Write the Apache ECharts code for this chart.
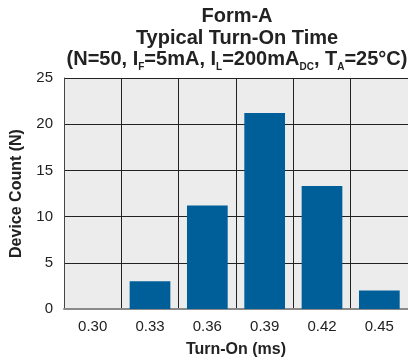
<!DOCTYPE html>
<html><head><meta charset="utf-8">
<script src="https://cdn.jsdelivr.net/npm/echarts@6/dist/echarts.min.js"></script>
<style>html,body{margin:0;padding:0;background:#fff}#c{width:408px;height:364px}</style>
</head><body><div id="c"></div>
<script>
const categories = ['0.30', '0.33', '0.36', '0.39', '0.42', '0.45'];
const deviceCount = [0, 3, 11.2, 21.2, 13.3, 2];
const yTicks = [0, 5, 10, 15, 20, 25];

const F = '"Liberation Sans", Arial, Helvetica, sans-serif';
const chart = echarts.init(document.getElementById('c'));
chart.setOption({
  animation: false,
  backgroundColor: '#fff',
  title: {
    left: 232, textAlign: 'center', top: 1,
    text: '{n|Form-A}\n{n|Typical Turn-On Time}\n{n|(N=50, I}{s|F}{n|=5mA, I}{s|L}{n|=200mA}{s|DC}{n|, T}{s|A}{n|=25°C)}',
    textStyle: {
      fontFamily: F, fontSize: 20, fontWeight: 'bold', color: '#222', lineHeight: 21.5,
      rich: {
        n: {fontFamily: F, fontSize: 20, fontWeight: 'bold', color: '#222', lineHeight: 21.5},
        s: {fontFamily: F, fontSize: 10, fontWeight: 'bold', color: '#222', lineHeight: 14, verticalAlign: 'bottom', padding: [0, 0, -2, 0]}
      }
    }
  },
  grid: {left: 64, top: 78, width: 347, height: 231, containLabel: false, backgroundColor: '#ececec', show: true, borderWidth: 0},
  xAxis: {
    type: 'category', data: categories,
    name: 'Turn-On (ms)', nameLocation: 'middle', nameGap: 33,
    nameTextStyle: {fontFamily: F, fontSize: 16, fontWeight: 'bold', color: '#222'},
    axisLine: {show: true, lineStyle: {color: '#8a8a8a', width: 2}},
    axisTick: {show: false},
    axisLabel: {fontFamily: F, fontSize: 15, color: '#222', margin: 10},
    splitLine: {show: true, interval: 0, lineStyle: {color: '#222', width: 1}}
  },
  yAxis: {
    type: 'value', min: 0, max: 25, interval: 5,
    name: 'Device Count (N)', nameLocation: 'middle', nameGap: 39, nameRotate: 90,
    nameTextStyle: {fontFamily: F, fontSize: 16, fontWeight: 'bold', color: '#222'},
    axisLine: {show: true, lineStyle: {color: '#444', width: 1}},
    axisTick: {show: false},
    axisLabel: {fontFamily: F, fontSize: 15, color: '#222', margin: 11,
      formatter: v => yTicks.includes(v) ? String(v) : ''},
    splitLine: {show: true, lineStyle: {color: '#222', width: 1}}
  },
  series: [{
    type: 'bar', data: deviceCount, barCategoryGap: '29%',
    itemStyle: {color: '#005f99'}
  }]
});
</script></body></html>
